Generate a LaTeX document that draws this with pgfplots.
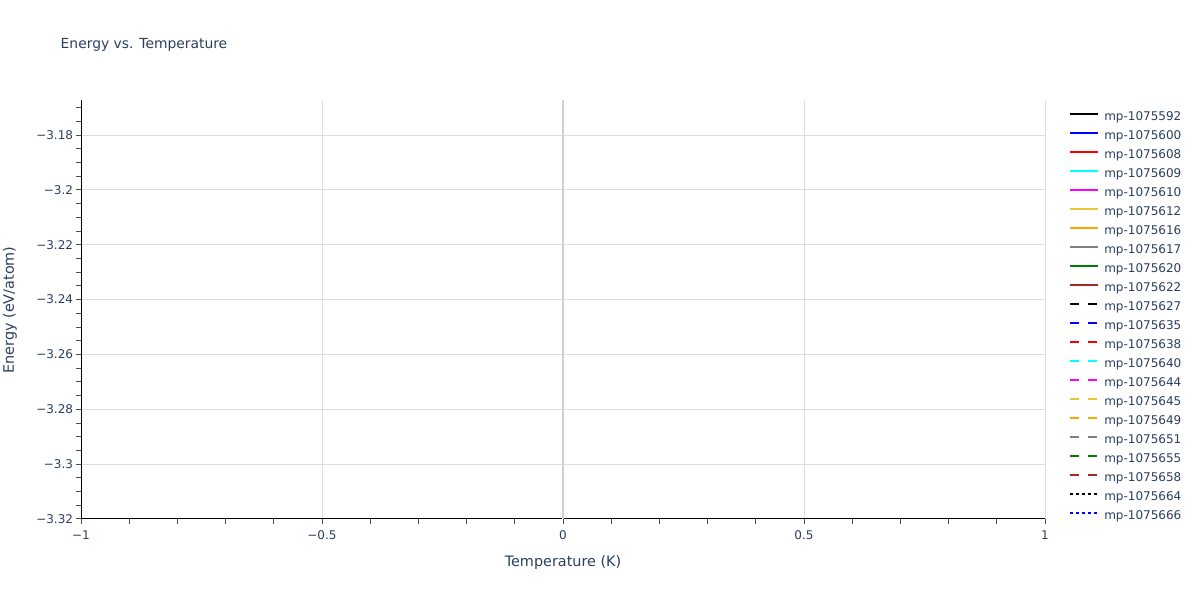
\documentclass[border=0pt]{standalone}
\usepackage{pgfplots}
\pgfplotsset{compat=1.18}
\usepackage{fontspec}
\setmainfont{DejaVu Sans}
\definecolor{txt}{HTML}{2A3F5F}
\definecolor{gridc}{HTML}{DDDDDD}
\definecolor{zeroc}{HTML}{D0D0D0}
\definecolor{cyn}{HTML}{00FFFF}
\definecolor{mag}{HTML}{FF00FF}
\definecolor{blu}{HTML}{0000FF}
\definecolor{rd}{HTML}{FF0000}
\definecolor{gold}{RGB}{236,196,58}
\definecolor{brn}{HTML}{A52A2A}
\definecolor{grn}{HTML}{008000}
\definecolor{orng}{HTML}{FFA500}
\definecolor{gry}{HTML}{808080}
\pgfplotsset{
  dsh/.style={dash pattern=on 6.75pt off 6.75pt},
  dt/.style={dash pattern=on 2.25pt off 2.25pt},
}

\begin{document}
\begin{tikzpicture}[x=0.75pt,y=0.75pt]
\path[use as bounding box] (0,0) rectangle (1200,600);
\node[anchor=west,text=txt,font=\fontsize{10.4}{12}\selectfont] at (56,555) {Energy vs. Temperature};
\node[text=txt,font=\fontsize{10.8}{12}\selectfont] at (563,37) {Temperature (K)};
\node[text=txt,font=\fontsize{10.8}{12}\selectfont,rotate=90] at (10,290) {Energy (eV/atom)};
\begin{axis}[
  at={(60.75pt,60.75pt)}, anchor=south west,
  scale only axis, width=723pt, height=314.25pt,
  xmin=-1, xmax=1, ymin=-3.32, ymax=-3.1672,
  axis x line*=bottom, axis y line*=left,
  axis line style={black, line width=0.75pt},
  xtick={-1,-0.5,0,0.5,1},
  xticklabels={−1,−0.5,0,0.5,1},
  minor xtick={-0.9,-0.8,-0.7,-0.6,-0.4,-0.3,-0.2,-0.1,0.1,0.2,0.3,0.4,0.6,0.7,0.8,0.9},
  ytick={-3.32,-3.30,-3.28,-3.26,-3.24,-3.22,-3.20,-3.18},
  yticklabels={−3.32,−3.3,−3.28,−3.26,−3.24,−3.22,−3.2,−3.18},
  minor ytick={-3.315,-3.31,-3.305,-3.295,-3.29,-3.285,-3.275,-3.27,-3.265,-3.255,-3.25,-3.245,-3.235,-3.23,-3.225,-3.215,-3.21,-3.205,-3.195,-3.19,-3.185,-3.175,-3.17},
  tick align=outside,
  major tick length=3.75pt, minor tick length=3.75pt,
  tick style={black!70, line width=0.75pt},
  ymajorgrids, xmajorgrids,
  major grid style={gridc, line width=0.75pt},
  extra x ticks={0}, extra x tick labels={},
  extra x tick style={major grid style={zeroc, line width=1.5pt}, major tick length=0pt},
  ticklabel style={text=txt, font=\fontsize{9}{10}\selectfont},
  yticklabel style={inner sep=2pt},
  xticklabel style={inner sep=4.5pt},
  every axis plot/.append style={line width=1.5pt},
  legend style={at={(rel axis cs:1.0249,0.973)}, anchor=north west,
    draw=none, fill=none, inner sep=0pt, row sep=5.25pt,
    font=\fontsize{9}{10}\selectfont, text=txt,
    nodes={inner sep=0pt, text height=7pt, text depth=2pt}},
  legend cell align=left,
  legend image code/.code={\draw[#1] (0pt,2.5pt) -- (21pt,2.5pt); \path[draw=none] (0pt,0pt) -- (25.5pt,0pt);},
]
\addplot[black] coordinates {(0,-3.2436)};
\addplot[blu] coordinates {(0,-3.2436)};
\addplot[rd] coordinates {(0,-3.2436)};
\addplot[cyn] coordinates {(0,-3.2436)};
\addplot[mag] coordinates {(0,-3.2436)};
\addplot[gold] coordinates {(0,-3.2436)};
\addplot[orng] coordinates {(0,-3.2436)};
\addplot[gry] coordinates {(0,-3.2436)};
\addplot[grn] coordinates {(0,-3.2436)};
\addplot[brn] coordinates {(0,-3.2436)};
\addplot[black,dsh] coordinates {(0,-3.2436)};
\addplot[blu,dsh] coordinates {(0,-3.2436)};
\addplot[rd,dsh] coordinates {(0,-3.2436)};
\addplot[cyn,dsh] coordinates {(0,-3.2436)};
\addplot[mag,dsh] coordinates {(0,-3.2436)};
\addplot[gold,dsh] coordinates {(0,-3.2436)};
\addplot[orng,dsh] coordinates {(0,-3.2436)};
\addplot[gry,dsh] coordinates {(0,-3.2436)};
\addplot[grn,dsh] coordinates {(0,-3.2436)};
\addplot[brn,dsh] coordinates {(0,-3.2436)};
\addplot[black,dt] coordinates {(0,-3.2436)};
\addplot[blu,dt] coordinates {(0,-3.2436)};
\legend{mp-1075592,mp-1075600,mp-1075608,mp-1075609,mp-1075610,mp-1075612,mp-1075616,mp-1075617,mp-1075620,mp-1075622,mp-1075627,mp-1075635,mp-1075638,mp-1075640,mp-1075644,mp-1075645,mp-1075649,mp-1075651,mp-1075655,mp-1075658,mp-1075664,mp-1075666}
\end{axis}
\end{tikzpicture}
\end{document}
